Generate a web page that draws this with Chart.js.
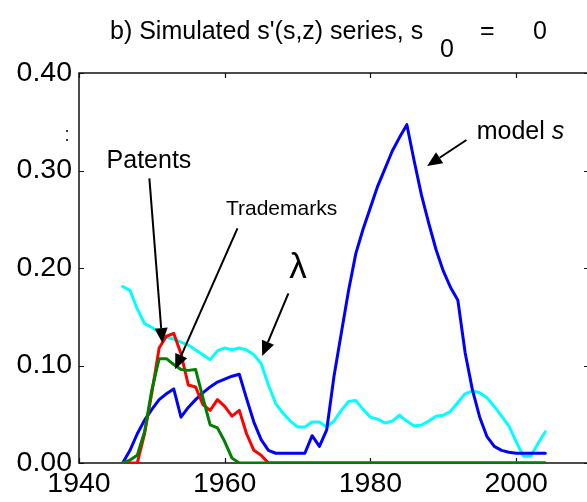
<!DOCTYPE html>
<html>
<head>
<meta charset="utf-8">
<script src="https://cdn.jsdelivr.net/npm/chart.js@4"></script>
<style>
html,body{margin:0;padding:0;background:#fff;overflow:hidden;}
#wrap{width:600px;height:502px;position:relative;}
</style>
</head>
<body>
<div id="wrap"><canvas id="c" width="600" height="502"></canvas></div>
<script>
const years = [1946,1947,1948,1949,1950,1951,1952,1953,1954,1955,
  1956,1957,1958,1959,1960,1961,1962,1963,1964,1965,
  1966,1967,1968,1969,1970,1971,1972,1973,1974,1975,
  1976,1977,1978,1979,1980,1981,1982,1983,1984,1985,
  1986,1987,1988,1989,1990,1991,1992,1993,1994,1995,
  1996,1997,1998,1999,2000,2001,2002,2003,2004];

const modelS = [0,0.013,0.03,0.044,0.055,0.065,0.071,0.076,0.047,0.057,
  0.065,0.072,0.078,0.083,0.086,0.089,0.091,0.066,0.042,0.024,
  0.013,0.01,0.01,0.01,0.01,0.01,0.028,0.017,0.034,0.089,
  0.133,0.177,0.215,0.24,0.262,0.284,0.302,0.32,0.334,0.347,
  0.31,0.275,0.246,0.219,0.197,0.18,0.167,0.113,0.075,0.047,
  0.027,0.017,0.013,0.011,0.01,0.01,0.01,0.01,0.01];

const patents = [0,0,0,0.03,0.072,0.118,0.13,0.133,0.112,0.08,
  0.078,0.06,0.054,0.065,0.058,0.048,0.054,0.03,0.013,0.008,
  0,0,0,0,0,0,0,0,0,0,
  0,0,0,0,0,0,0,0,0,0,
  0,0,0,0,0,0,0,0,0,0,
  0,0,0,0,0,0,0,0,0];

const trademarks = [0,0.003,0.008,0.032,0.075,0.107,0.107,0.101,0.096,0.095,
  0.096,0.067,0.039,0.036,0.022,0.005,0,0,0,0,
  0,0,0,0,0,0,0,0,0,0,
  0,0,0,0,0,0,0,0,0,0,
  0,0,0,0,0,0,0,0,0,0,
  0,0,0,0,0,0,0,0,0];

const lambda = [0.181,0.177,0.158,0.143,0.139,0.134,0.129,0.127,0.124,0.121,
  0.116,0.111,0.106,0.115,0.118,0.116,0.118,0.116,0.111,0.102,
  0.08,0.061,0.051,0.043,0.037,0.037,0.042,0.042,0.037,0.043,
  0.054,0.063,0.064,0.055,0.047,0.045,0.041,0.043,0.049,0.043,
  0.038,0.039,0.043,0.048,0.049,0.053,0.062,0.071,0.074,0.072,
  0.067,0.058,0.048,0.038,0.022,0.007,0.007,0.02,0.032];

const xTicks = [1940,1960,1980,2000];
const yTicks = [0,0.1,0.2,0.3,0.4];

const FONT = "'Liberation Sans', Arial, sans-serif";

function pts(vals){ return years.map((y,i)=>({x:y,y:vals[i]})); }

// annotations (label anchors and arrows, in data units)
const notes = [
  {text:'Patents', x:1949.6, y:0.31, size:25, align:'center', arrow:[1949.66,0.292,1951.44,0.123]},
  {text:'Trademarks', x:1967.8, y:0.2605, size:21, align:'center', arrow:[1961.75,0.2407,1953.2,0.0961]},
  {text:'\u03bb', x:1970.07, y:0.1995, size:35, align:'center', arrow:[1968.74,0.174,1965.14,0.1097]},
  {text:'model ', italic:'s', x:1994.59, y:0.3395, size:25, align:'left', arrow:[1993.18,0.3313,1987.78,0.3046]}
];

function arrow(ctx,x1,y1,x2,y2){
  const ang = Math.atan2(y2-y1,x2-x1);
  const L=15, W=6.5;
  const bx = x2 - L*Math.cos(ang), by = y2 - L*Math.sin(ang);
  ctx.beginPath(); ctx.moveTo(x1,y1); ctx.lineTo(bx,by); ctx.stroke();
  ctx.beginPath();
  ctx.moveTo(x2,y2);
  ctx.lineTo(bx + W*Math.sin(ang), by - W*Math.cos(ang));
  ctx.lineTo(bx - W*Math.sin(ang), by + W*Math.cos(ang));
  ctx.closePath(); ctx.fill();
}

const framePlugin = {
  id:'frame',
  beforeDatasetsDraw(chart){
    const {ctx, chartArea:a, scales:{x,y}} = chart;
    ctx.save();
    ctx.strokeStyle='#111'; ctx.lineWidth=1.5;
    ctx.strokeRect(a.left, a.top, a.right-a.left, a.bottom-a.top);
    ctx.lineWidth=1.2;
    const tl=5;
    xTicks.forEach(v=>{
      const p=Math.round(x.getPixelForValue(v))+0.5;
      ctx.beginPath(); ctx.moveTo(p,a.bottom); ctx.lineTo(p,a.bottom-tl);
      ctx.moveTo(p,a.top); ctx.lineTo(p,a.top+tl); ctx.stroke();
    });
    yTicks.forEach(v=>{
      const p=Math.round(y.getPixelForValue(v))+0.5;
      ctx.beginPath(); ctx.moveTo(a.left,p); ctx.lineTo(a.left+tl,p);
      ctx.moveTo(a.right,p); ctx.lineTo(a.right-tl,p); ctx.stroke();
    });
    ctx.restore();
  },
  afterDraw(chart){
    const {ctx, scales:{x,y}} = chart;
    ctx.save();
    ctx.fillStyle='#000'; ctx.strokeStyle='#000';
    // title
    ctx.font = '25px '+FONT; ctx.textBaseline='alphabetic'; ctx.textAlign='left';
    ctx.fillText("b) Simulated s'(s,z) series, s", 110, 39);
    ctx.fillText('0', 440, 57);
    ctx.fillText('=', 480, 39);
    ctx.fillText('0', 533, 39);
    // stray colon by the y axis
    ctx.fillStyle='#333';
    ctx.font = '20px '+FONT; ctx.textAlign='center'; ctx.textBaseline='middle';
    ctx.fillText(':', 67, 135);
    ctx.fillStyle='#000';
    // annotations
    notes.forEach(n=>{
      const px=x.getPixelForValue(n.x), py=y.getPixelForValue(n.y);
      ctx.font = n.size+'px '+FONT; ctx.textBaseline='middle';
      if(n.italic){
        ctx.textAlign='left';
        ctx.fillText(n.text, px, py);
        const w=ctx.measureText(n.text).width;
        ctx.font='italic '+n.size+'px '+FONT;
        ctx.fillText(n.italic, px+w, py);
      } else {
        ctx.textAlign=n.align;
        ctx.fillText(n.text, px, py);
      }
      const [ax1,ay1,ax2,ay2]=n.arrow;
      ctx.lineWidth=2;
      arrow(ctx, x.getPixelForValue(ax1), y.getPixelForValue(ay1), x.getPixelForValue(ax2), y.getPixelForValue(ay2));
    });
    ctx.restore();
  }
};

const ds = (label, vals, color, order) => ({
  label, data: pts(vals), borderColor: color, backgroundColor: color,
  borderWidth: 3, pointRadius: 0, tension: 0, fill: false, order,
  borderJoinStyle: 'round', borderCapStyle:'round'
});

new Chart(document.getElementById('c'), {
  type: 'line',
  data: {
    datasets: [
      ds('Trademarks', trademarks, '#007f00', 1),
      ds('Patents', patents, '#ff0000', 2),
      ds('model s', modelS, '#0000ff', 3),
      ds('\u03bb', lambda, '#00ffff', 4)
    ]
  },
  options: {
    responsive: false,
    animation: false,
    devicePixelRatio: 1,
    layout: { padding: { top: 73, right: 11, left: 0, bottom: 0 } },
    plugins: { legend: { display: false }, title: { display: false }, tooltip: { enabled: false } },
    scales: {
      x: {
        type: 'linear', min: 1940, max: 2010,
        grid: { display: false, drawTicks: false }, border: { display: false },
        afterBuildTicks: s => { s.ticks = xTicks.map(v => ({ value: v })); },
        afterFit: s => { s.height = 39; },
        ticks: { color: '#000', font: { family: FONT, size: 28.5 }, padding: 4, maxRotation: 0, autoSkip: false,
                 callback: v => String(v) }
      },
      y: {
        min: 0, max: 0.4,
        grid: { display: false, drawTicks: false }, border: { display: false },
        afterBuildTicks: s => { s.ticks = yTicks.map(v => ({ value: v })); },
        afterFit: s => { s.width = 79; },
        ticks: { color: '#000', font: { family: FONT, size: 28.5 }, padding: 7,
                 callback: v => Number(v).toFixed(2) }
      }
    }
  },
  plugins: [framePlugin]
});
</script>
</body>
</html>
